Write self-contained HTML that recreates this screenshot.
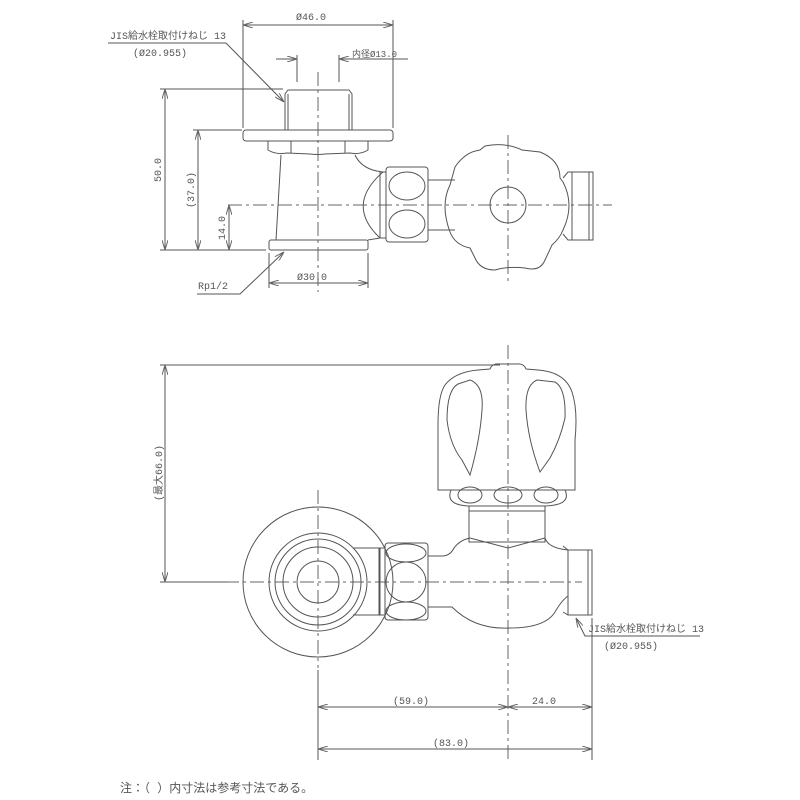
<!DOCTYPE html>
<html><head><meta charset="utf-8"><style>
html,body{margin:0;padding:0;background:#fff}
svg{display:block}
text{font-family:"Liberation Mono","Noto Sans CJK JP",monospace;fill:#555}
</style></head><body>
<svg width="800" height="800" viewBox="0 0 800 800" xmlns="http://www.w3.org/2000/svg">
<defs>
<marker id="a" viewBox="0 0 10 6" refX="10" refY="3" markerWidth="10" markerHeight="6" orient="auto-start-reverse" markerUnits="userSpaceOnUse"><path d="M0,0 L10,3 L0,6" fill="none" stroke="#666" stroke-width="1"/></marker>
</defs>
<g fill="none" stroke="#555" stroke-width="1">
<g stroke="#666" stroke-dasharray="14,4,3,4">
<line x1="318" y1="72" x2="318" y2="292"/>
<line x1="228" y1="205" x2="612" y2="205"/>
<line x1="508" y1="135" x2="508" y2="285"/>
</g>
<path d="M285,94 L288,90 L349,90 L352,94 L352,130 L285,130 Z"/>
<line x1="288" y1="94" x2="288" y2="130"/><line x1="349" y1="94" x2="349" y2="130"/>
<rect x="243" y="130" width="150" height="11" rx="3"/>
<path d="M268,141 L368,141 L368,150 Q360,155 350,153 L325,154 Q318,155 310,154 L287,153 Q276,155 268,150 Z"/>
<line x1="291" y1="141" x2="291" y2="153"/><line x1="345" y1="141" x2="345" y2="153"/>
<path d="M281,155 L276,240"/>
<path d="M355,155 Q362,170 383,172"/>
<path d="M383,172 Q345,205 380,238"/>
<path d="M380,238 L368,240"/>
<rect x="269" y="240" width="99" height="10" rx="2"/>
<rect x="380" y="172" width="6" height="66"/>
<rect x="386" y="167" width="42" height="75" rx="3"/>
<ellipse cx="407" cy="186" rx="18" ry="14"/>
<ellipse cx="407" cy="224" rx="18" ry="14"/>
<line x1="428" y1="180" x2="455" y2="180"/><line x1="428" y1="230" x2="455" y2="230"/>
<path d="M455,167 Q465,152 480,150 L485,146 Q505,142 522,150 L540,152 Q560,160 560,178 L563,182 Q575,205 563,230 Q560,238 552,245 L545,260 Q540,272 525,268 Q508,266 495,270 Q480,270 475,258 L470,248 Q455,245 450,232 Q440,205 450,185 Z"/>
<circle cx="508" cy="205" r="18"/>
<path d="M563,178 L568,172 L593,172 L593,240 L568,240 L563,234"/>
<line x1="572" y1="172" x2="572" y2="240"/><line x1="589" y1="172" x2="589" y2="240"/>
<line x1="243" y1="128" x2="243" y2="20"/><line x1="393" y1="128" x2="393" y2="20"/>
<line x1="243" y1="25" x2="393" y2="25" marker-start="url(#a)" marker-end="url(#a)"/>
<line x1="297" y1="82" x2="297" y2="55"/><line x1="339" y1="82" x2="339" y2="55"/>
<line x1="276" y1="59" x2="297" y2="59" marker-end="url(#a)"/>
<line x1="408" y1="59" x2="339" y2="59" marker-end="url(#a)"/>
<line x1="160" y1="89" x2="283" y2="89"/><line x1="160" y1="250" x2="266" y2="250"/>
<line x1="165" y1="89" x2="165" y2="250" marker-start="url(#a)" marker-end="url(#a)"/>
<line x1="193" y1="130" x2="242" y2="130"/>
<line x1="198" y1="130" x2="198" y2="250" marker-start="url(#a)" marker-end="url(#a)"/>
<line x1="229" y1="205" x2="229" y2="250" marker-start="url(#a)" marker-end="url(#a)"/>
<line x1="269" y1="253" x2="269" y2="288"/><line x1="368" y1="253" x2="368" y2="288"/>
<line x1="269" y1="283" x2="368" y2="283" marker-start="url(#a)" marker-end="url(#a)"/>
<polyline points="108,43 226,43 284,102" marker-end="url(#a)"/>
<polyline points="197,294 240,294 284,252" marker-end="url(#a)"/>

<g stroke="#666" stroke-dasharray="14,4,3,4">
<line x1="318" y1="490" x2="318" y2="668"/>
<line x1="225" y1="582" x2="582" y2="582"/>
<line x1="508" y1="345" x2="508" y2="760"/>
</g>
<circle cx="318" cy="582" r="75"/>
<circle cx="318" cy="582" r="49"/>
<circle cx="318" cy="582" r="43"/>
<circle cx="318" cy="582" r="35"/>
<circle cx="318" cy="582" r="21"/>
<path d="M353,548 L380,548 L380,615 L353,615"/>
<rect x="379" y="548" width="6" height="67"/>
<rect x="385" y="543" width="43" height="77" rx="3"/>
<ellipse cx="406" cy="553" rx="20" ry="9"/>
<ellipse cx="406" cy="611" rx="20" ry="9"/>
<circle cx="406" cy="582" r="20"/>
<path d="M428,556 L442,556 Q450,556 454,548 Q460,540 470,538"/>
<path d="M428,607 L452,607 Q475,630 510,628 Q545,628 555,612 Q562,600 568,596"/>
<path d="M545,538 Q548,548 568,550"/>
<path d="M470,538 L508,548 L545,538"/>
<rect x="469" y="506" width="76" height="36"/>
<line x1="469" y1="511" x2="545" y2="511"/>
<path d="M451,490 Q445,505 469,506 L545,506 Q572,505 565,490"/>
<ellipse cx="470" cy="495" rx="12" ry="8"/>
<ellipse cx="508" cy="495" rx="14" ry="8"/>
<ellipse cx="546" cy="495" rx="12" ry="8"/>
<path d="M438,490 L438,425 Q438,395 445,385 Q455,372 478,370 L490,369 Q492,363 500,364 L516,364 Q524,363 526,369 L538,370 Q565,372 572,392 Q578,410 575,440 L575,490 Z"/>
<path d="M458,384 Q447,390 447,420 Q450,445 462,460 L470,475 Q480,440 482,410 Q484,385 470,380 Z"/>
<path d="M537,380 Q525,385 526,410 Q528,440 540,472 L550,458 Q560,440 565,418 Q566,388 555,382 Z"/>
<path d="M563,546 L568,550 L592,550 L592,615 L568,615 L563,612"/>
<line x1="568" y1="550" x2="568" y2="615"/><line x1="588" y1="550" x2="588" y2="615"/>
<line x1="160" y1="365" x2="500" y2="365"/><line x1="160" y1="582" x2="228" y2="582"/>
<line x1="165" y1="365" x2="165" y2="582" marker-start="url(#a)" marker-end="url(#a)"/>
<line x1="592" y1="618" x2="592" y2="760"/>
<line x1="318" y1="670" x2="318" y2="760"/>
<line x1="318" y1="707" x2="508" y2="707" marker-start="url(#a)" marker-end="url(#a)"/>
<line x1="508" y1="707" x2="592" y2="707" marker-start="url(#a)" marker-end="url(#a)"/>
<line x1="318" y1="749" x2="592" y2="749" marker-start="url(#a)" marker-end="url(#a)"/>
<polyline points="700,636 585,636 576,618" marker-end="url(#a)"/>
</g>
<g font-size="10">
<text x="296" y="20">Ø46.0</text>
<text x="352" y="57" font-size="9">内径Ø13.0</text>
<text x="110" y="39">JIS給水栓取付けねじ 13</text>
<text x="133" y="56">(Ø20.955)</text>
<text x="297" y="280">Ø30.0</text>
<text x="198" y="289">Rp1/2</text>
<text transform="translate(161,170) rotate(-90)" text-anchor="middle">50.0</text>
<text transform="translate(194,190) rotate(-90)" text-anchor="middle">(37.0)</text>
<text transform="translate(225,228) rotate(-90)" text-anchor="middle">14.0</text>
<text transform="translate(162,473) rotate(-90)" text-anchor="middle">(最大66.0)</text>
<text x="588" y="632">JIS給水栓取付けねじ 13</text>
<text x="604" y="649">(Ø20.955)</text>
<text x="393" y="704">(59.0)</text>
<text x="532" y="704">24.0</text>
<text x="433" y="746">(83.0)</text>
<text x="120" y="792" font-size="12">注：（ ）内寸法は参考寸法である。</text>
</g>
</svg>
</body></html>
